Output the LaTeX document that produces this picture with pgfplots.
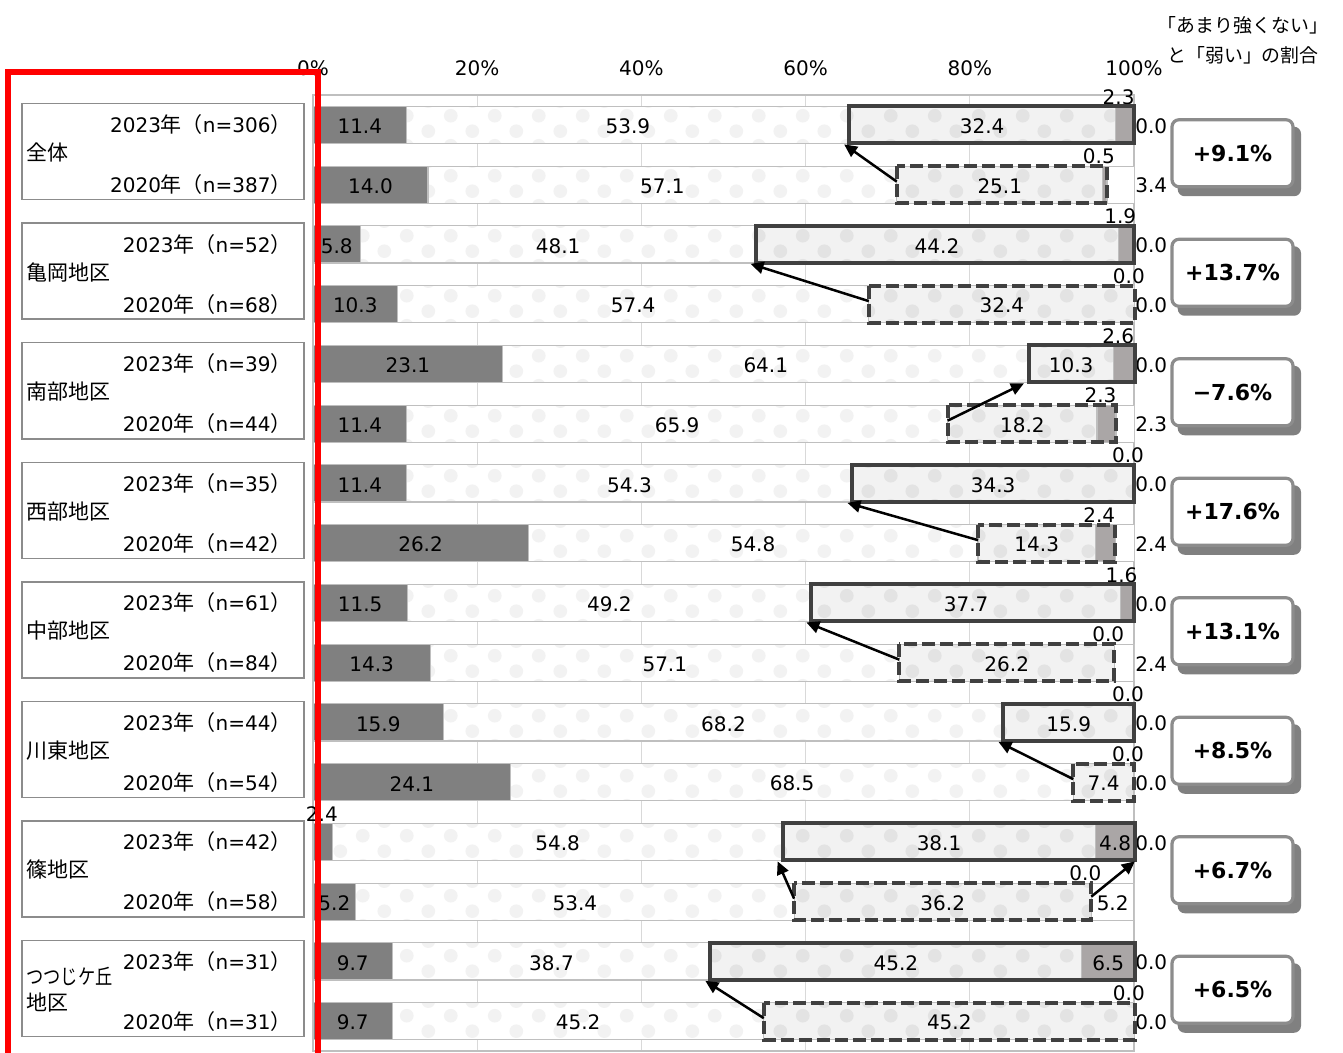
\documentclass[border=0pt]{standalone}
\usepackage{fontspec}
\setmainfont{DejaVu Sans}
\newfontfamily\cjk{Noto Sans CJK JP}[Scale=1.05]
\usepackage{graphicx}
\usepackage{pgfplots}
\usepackage{pgfplotstable}
\pgfplotsset{compat=1.18}
\usetikzlibrary{patterns,arrows.meta}

\definecolor{cStrong}{HTML}{808080}
\definecolor{cWeak}{HTML}{AAA6A6}
\definecolor{cEdge}{HTML}{BFBFBF}
\definecolor{cGrid}{HTML}{D9D9D9}
\definecolor{cBox}{HTML}{404040}
\definecolor{cFrame}{HTML}{8C8C8C}
\definecolor{cShadow}{HTML}{808080}
\definecolor{cRed}{HTML}{FF0000}

\pgfdeclarepatternformonly{softdots}{\pgfpointorigin}{\pgfqpoint{22pt}{15pt}}{\pgfqpoint{22pt}{15pt}}{%
  \pgfpathcircle{\pgfqpoint{5.5pt}{3.75pt}}{3.5pt}\pgfusepath{fill}%
  \pgfpathcircle{\pgfqpoint{16.5pt}{11.25pt}}{3.5pt}\pgfusepath{fill}}

% 強い / ある程度強い / あまり強くない / 弱い / 無回答
\pgfplotstableread{
y a b c d e
0 11.4 53.9 32.4 2.3 0.0
1 14.0 57.1 25.1 0.5 3.4
2 5.8 48.1 44.2 1.9 0.0
3 10.3 57.4 32.4 0.0 0.0
4 23.1 64.1 10.3 2.6 0.0
5 11.4 65.9 18.2 2.3 2.3
6 11.4 54.3 34.3 0.0 0.0
7 26.2 54.8 14.3 2.4 2.4
8 11.5 49.2 37.7 1.6 0.0
9 14.3 57.1 26.2 0.0 2.4
10 15.9 68.2 15.9 0.0 0.0
11 24.1 68.5 7.4 0.0 0.0
12 2.4 54.8 38.1 4.8 0.0
13 5.2 53.4 36.2 0.0 5.2
14 9.7 38.7 45.2 6.5 0.0
15 9.7 45.2 45.2 0.0 0.0
}\datatable

\begin{document}
\begin{tikzpicture}[
  lab/.style={font=\fontsize{10}{12}\selectfont, inner sep=0pt},
  solid box/.style={draw=cBox, line width=2pt},
  dashed box/.style={draw=cBox, line width=2pt, dash pattern=on 6.5pt off 2.5pt},
  arr/.style={black, line width=1.25pt, -{Triangle[length=6.5pt,width=6pt]}},
]
\useasboundingbox (0pt,0pt) rectangle (671.5pt,-526.5pt);

\begin{axis}[
  at={(156.5pt,-47.5pt)}, anchor=north west,
  scale only axis, width=410.5pt, height=478pt,
  xbar stacked, bar width=0.62,
  xmin=0, xmax=100, ymin=-0.5, ymax=15.5, y dir=reverse,
  xtick={0,20,...,100},
  xticklabels={0\%,20\%,40\%,60\%,80\%,100\%},
  xticklabel pos=upper,
  xticklabel style={font=\fontsize{10}{12}\selectfont, yshift=6pt},
  ytick=\empty, major tick length=0pt,
  xmajorgrids, grid style={draw=cGrid, line width=0.5pt},
  axis line style={draw=cEdge, line width=0.6pt},
  every axis plot/.append style={draw=cEdge, line width=0.6pt},
]
\addplot[fill=cStrong] table[x=a, y=y] {\datatable};
\addplot[fill=white, postaction={pattern=softdots, pattern color=black!5}] table[x=b, y=y] {\datatable};
\addplot[fill=black!5, postaction={pattern=softdots, pattern color=black!11}] table[x=c, y=y] {\datatable};
\addplot[fill=cWeak] table[x=d, y=y] {\datatable};
\addplot[fill=white] table[x=e, y=y] {\datatable};
\end{axis}

\begin{scope}[x=0.5pt, y=-0.5pt]
% value labels and boxes
\foreach \i in {0,...,15}{%
  \pgfplotstablegetelem{\i}{a}\of\datatable \let\va\pgfplotsretval
  \pgfplotstablegetelem{\i}{b}\of\datatable \let\vb\pgfplotsretval
  \pgfplotstablegetelem{\i}{c}\of\datatable \let\vc\pgfplotsretval
  \pgfplotstablegetelem{\i}{d}\of\datatable \let\vd\pgfplotsretval
  \pgfplotstablegetelem{\i}{e}\of\datatable \let\ve\pgfplotsretval
  \pgfmathsetmacro\yc{95+59.75*(\i+0.5)}
  \pgfmathsetmacro\xa{313+8.21*\va/2}
  \pgfmathsetmacro\xb{313+8.21*(\va+\vb/2)}
  \pgfmathsetmacro\xc{313+8.21*(\va+\vb+\vc/2)}
  \pgfmathsetmacro\xd{313+8.21*(\va+\vb+\vc+\vd/2)}
  \pgfmathsetmacro\xe{313+8.21*(\va+\vb+\vc+\vd+\ve/2)}
  \pgfmathsetmacro\xL{313+8.21*(\va+\vb)}
  \pgfmathsetmacro\xR{313+8.21*(\va+\vb+\vc+\vd)}
  \expandafter\xdef\csname L\i\endcsname{\xL}
  \expandafter\xdef\csname R\i\endcsname{\xR}
  \ifdim\va pt<3pt \node[lab] at (\xa-1,\yc-28) {\va};
  \else \node[lab] at (\xa,\yc+1.5) {\va}; \fi
  \node[lab] at (\xb,\yc+1.5) {\vb};
  \node[lab] at (\xc,\yc+1.5) {\vc};
  \ifdim\vd pt<4pt \node[lab] at (\xd-6,\yc-28) {\vd};
  \else \node[lab] at (\xd,\yc+1.5) {\vd}; \fi
  \ifdim\ve pt<5pt \node[lab, anchor=west] at (1135,\yc+1) {\ve};
  \else \node[lab] at (\xe,\yc+1.5) {\ve}; \fi
  \ifodd\i \def\bst{dashed box}\else\def\bst{solid box}\fi
  \draw[\bst] (\xL,\yc-18.5) rectangle (\xR,\yc+18.5);
}

% arrows 2020 -> 2023
\foreach \g in {0,...,7}{%
  \pgfmathtruncatemacro\ia{2*\g}
  \pgfmathtruncatemacro\ib{2*\g+1}
  \edef\La{\csname L\ia\endcsname}
  \edef\Lb{\csname L\ib\endcsname}
  \pgfmathsetmacro\ya{95+59.75*(\ia+0.5)}
  \pgfmathsetmacro\yb{95+59.75*(\ib+0.5)}
  \draw[arr] (\Lb,\yb-3) -- (\La-5,\ya+19.5);
}
\edef\Ra{\csname R12\endcsname}
\edef\Rb{\csname R13\endcsname}
\draw[arr] (\Rb,95+59.75*13.5-5) -- (\Ra,95+59.75*12.5+19.5);

% group frames on the left, change boxes on the right
\foreach \g/\nm/\na/\nb/\df in {%
  0/{全体}/306/387/{+9.1\%},
  1/{亀岡地区}/52/68/{+13.7\%},
  2/{南部地区}/39/44/{−7.6\%},
  3/{西部地区}/35/42/{+17.6\%},
  4/{中部地区}/61/84/{+13.1\%},
  5/{川東地区}/44/54/{+8.5\%},
  6/{篠地区}/42/58/{+6.7\%},
  7/{\scalebox{0.82}[1]{つつじケ丘}\\地区}/31/31/{+6.5\%}}{%
  \pgfmathsetmacro\gc{95+59.75*(2*\g+1)}
  \draw[cFrame, line width=0.75pt] (22,\gc-51) rectangle (304,\gc+45);
  \node[anchor=west, align=left, inner sep=0pt, font={\fontsize{10}{13}\selectfont\cjk}] at (26,\gc-2) {\nm};
  \node[lab, anchor=east] at (292,\gc-29.875) {2023{\cjk 年（}n=\na{\cjk ）}};
  \node[lab, anchor=east] at (292,\gc+29.875) {2020{\cjk 年（}n=\nb{\cjk ）}};
  \fill[cShadow, rounded corners=3.5pt] (1177.7,\gc-28) rectangle (1301,\gc+41.5);
  \draw[cFrame, fill=white, line width=1.6pt, rounded corners=3.5pt] (1172,\gc-35) rectangle (1293,\gc+32);
  \node[inner sep=0pt, font=\fontsize{11}{13}\selectfont\bfseries] at (1232.5,\gc-1.5) {\df};
}

\node[align=center, inner sep=0pt, font={\fontsize{9}{15}\selectfont\cjk}] at (1243,40) {「あまり強くない」\\と「弱い」の割合};

% red frame
\draw[cRed, line width=3pt, line join=miter] (7.5,1070) -- (7.5,72) -- (318,72) -- (318,1070);
\end{scope}
\end{tikzpicture}
\end{document}
